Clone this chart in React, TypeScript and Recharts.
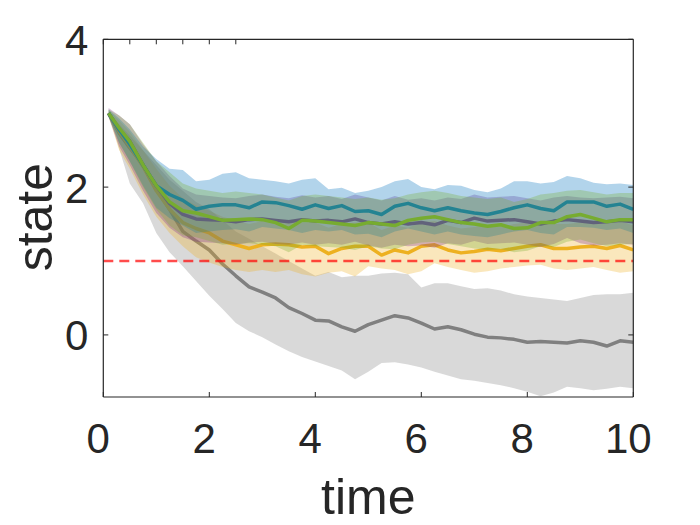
import React from 'react';
import { ComposedChart, Area, Line, XAxis, YAxis, ReferenceLine } from 'recharts';

const TIME = [0.1, 0.3, 0.5, 0.75, 1, 1.25, 1.5, 1.75, 2, 2.25, 2.5, 2.75, 3, 3.25, 3.5, 3.75, 4, 4.25, 4.5, 4.75, 5, 5.25, 5.5, 5.75, 6, 6.25, 6.5, 6.75, 7, 7.25, 7.5, 7.75, 8, 8.25, 8.5, 8.75, 9, 9.25, 9.5, 9.75, 10];

const GRAY_MEAN = [3.0, 2.73, 2.53, 2.3, 1.98, 1.7, 1.4, 1.27, 1.15, 0.96, 0.8, 0.65, 0.58, 0.5, 0.37, 0.29, 0.2, 0.19, 0.11, 0.05, 0.14, 0.2, 0.26, 0.23, 0.16, 0.08, 0.11, 0.07, 0.01, -0.03, -0.04, -0.06, -0.1, -0.09, -0.1, -0.11, -0.08, -0.1, -0.15, -0.08, -0.1];
const GRAY_HI = [3.02, 2.85, 2.7, 2.5, 2.3, 2.1, 1.95, 1.8, 1.7, 1.55, 1.4, 1.3, 1.2, 1.1, 1.0, 0.9, 0.8, 0.85, 0.78, 0.8, 0.8, 0.83, 0.84, 0.82, 0.64, 0.7, 0.7, 0.66, 0.62, 0.63, 0.6, 0.55, 0.52, 0.5, 0.48, 0.46, 0.5, 0.54, 0.55, 0.55, 0.57];
const GRAY_LO = [2.98, 2.52, 2.05, 1.78, 1.38, 1.12, 0.93, 0.73, 0.53, 0.35, 0.16, 0.05, -0.03, -0.13, -0.22, -0.3, -0.36, -0.42, -0.48, -0.6, -0.5, -0.38, -0.37, -0.4, -0.44, -0.5, -0.55, -0.6, -0.62, -0.65, -0.68, -0.72, -0.77, -0.83, -0.78, -0.7, -0.72, -0.75, -0.73, -0.7, -0.72];

const YELLOW_MEAN = [3.0, 2.75, 2.55, 2.28, 1.95, 1.7, 1.52, 1.44, 1.38, 1.27, 1.22, 1.17, 1.22, 1.23, 1.22, 1.19, 1.2, 1.1, 1.17, 1.2, 1.2, 1.08, 1.15, 1.11, 1.2, 1.22, 1.15, 1.11, 1.13, 1.16, 1.14, 1.17, 1.2, 1.22, 1.17, 1.17, 1.19, 1.2, 1.17, 1.21, 1.15];
const YELLOW_HI = [3.04, 2.9, 2.75, 2.5, 2.25, 2.02, 1.85, 1.75, 1.68, 1.6, 1.55, 1.5, 1.54, 1.55, 1.54, 1.52, 1.52, 1.45, 1.5, 1.52, 1.52, 1.42, 1.48, 1.45, 1.52, 1.54, 1.48, 1.44, 1.46, 1.48, 1.46, 1.5, 1.52, 1.54, 1.5, 1.5, 1.52, 1.52, 1.5, 1.54, 1.48];
const YELLOW_LO = [2.95, 2.5, 2.25, 1.9, 1.6, 1.38, 1.2, 1.05, 0.98, 0.92, 0.88, 0.85, 0.88, 0.85, 0.88, 0.82, 0.79, 0.84, 0.86, 0.79, 0.93, 0.9, 0.88, 0.82, 0.86, 0.97, 0.92, 0.88, 0.84, 0.86, 0.9, 0.92, 0.94, 0.95, 0.9, 0.88, 0.9, 0.92, 0.88, 0.84, 0.86];

const PURPLE_MEAN = [3.0, 2.78, 2.62, 2.3, 2.02, 1.78, 1.63, 1.57, 1.56, 1.55, 1.53, 1.56, 1.57, 1.55, 1.53, 1.56, 1.54, 1.55, 1.53, 1.57, 1.52, 1.5, 1.53, 1.5, 1.52, 1.49, 1.55, 1.52, 1.58, 1.54, 1.55, 1.56, 1.53, 1.5, 1.54, 1.56, 1.54, 1.52, 1.53, 1.55, 1.53];
const PURPLE_HI = [3.07, 2.97, 2.85, 2.58, 2.35, 2.15, 1.98, 1.9, 1.88, 1.86, 1.85, 1.88, 1.9, 1.87, 1.85, 1.89, 1.86, 1.88, 1.84, 1.9, 1.86, 1.82, 1.88, 1.83, 1.85, 1.82, 1.86, 1.84, 1.9, 1.86, 1.87, 1.88, 1.85, 1.82, 1.86, 1.88, 1.86, 1.85, 1.86, 1.87, 1.85];
const PURPLE_LO = [2.95, 2.55, 2.3, 1.95, 1.65, 1.45, 1.32, 1.26, 1.25, 1.24, 1.22, 1.25, 1.26, 1.23, 1.22, 1.25, 1.22, 1.24, 1.22, 1.26, 1.21, 1.18, 1.22, 1.2, 1.21, 1.18, 1.24, 1.22, 1.27, 1.23, 1.24, 1.25, 1.22, 1.19, 1.23, 1.31, 1.24, 1.21, 1.22, 1.24, 1.22];

const BLUE_MEAN = [3.0, 2.78, 2.58, 2.3, 2.02, 1.9, 1.82, 1.7, 1.74, 1.76, 1.76, 1.72, 1.8, 1.79, 1.75, 1.7, 1.76, 1.71, 1.75, 1.67, 1.68, 1.63, 1.74, 1.78, 1.72, 1.68, 1.72, 1.68, 1.65, 1.63, 1.67, 1.72, 1.76, 1.71, 1.68, 1.8, 1.8, 1.8, 1.74, 1.77, 1.7];
const BLUE_HI = [3.05, 2.93, 2.78, 2.55, 2.38, 2.25, 2.23, 2.08, 2.1, 2.18, 2.2, 2.12, 2.1, 2.08, 2.05, 2.1, 2.12, 1.97, 1.99, 1.92, 1.95, 2.0, 2.08, 2.11, 2.0, 1.97, 2.03, 2.02, 1.96, 1.93, 1.98, 2.08, 2.08, 2.05, 2.07, 2.15, 2.12, 2.06, 2.04, 2.05, 2.03];
const BLUE_LO = [2.95, 2.6, 2.35, 2.02, 1.72, 1.58, 1.48, 1.38, 1.4, 1.42, 1.43, 1.4, 1.46, 1.44, 1.42, 1.38, 1.42, 1.4, 1.42, 1.36, 1.37, 1.32, 1.4, 1.44, 1.4, 1.36, 1.4, 1.36, 1.34, 1.32, 1.36, 1.4, 1.42, 1.38, 1.36, 1.46, 1.46, 1.45, 1.42, 1.44, 1.38];

const GREEN_MEAN = [3.0, 2.8, 2.62, 2.3, 2.02, 1.8, 1.68, 1.65, 1.6, 1.55, 1.56, 1.57, 1.56, 1.52, 1.44, 1.55, 1.54, 1.52, 1.5, 1.48, 1.52, 1.5, 1.48, 1.55, 1.58, 1.6, 1.56, 1.52, 1.5, 1.47, 1.49, 1.44, 1.45, 1.52, 1.52, 1.6, 1.63, 1.58, 1.53, 1.56, 1.56];
const GREEN_HI = [3.05, 2.97, 2.85, 2.6, 2.35, 2.2, 2.05, 1.98, 1.95, 1.92, 1.94, 1.92, 1.9, 1.86, 1.82, 1.88, 1.9, 1.88, 1.86, 1.84, 1.86, 1.83, 1.85, 1.9, 1.93, 1.95, 1.92, 1.88, 1.86, 1.84, 1.86, 1.8, 1.84, 1.9, 1.92, 1.95, 1.96, 1.93, 1.9, 1.92, 1.92];
const GREEN_LO = [2.95, 2.6, 2.35, 2.0, 1.7, 1.48, 1.35, 1.32, 1.27, 1.22, 1.23, 1.24, 1.22, 1.2, 1.12, 1.22, 1.2, 1.19, 1.18, 1.15, 1.2, 1.17, 1.16, 1.22, 1.25, 1.26, 1.23, 1.2, 1.17, 1.15, 1.16, 1.12, 1.14, 1.2, 1.19, 1.26, 1.29, 1.24, 1.2, 1.22, 1.23];

const X_TICKS = [0, 2, 4, 6, 8, 10];
const Y_TICKS = [0, 2, 4];
const Y_DOMAIN = [-0.84, 4];
const TARGET = 1;

const SERIES = [
  { key: 'gray', color: '#808080', mean: GRAY_MEAN, lo: GRAY_LO, hi: GRAY_HI },
  { key: 'yellow', color: '#EDB120', mean: YELLOW_MEAN, lo: YELLOW_LO, hi: YELLOW_HI },
  { key: 'purple', color: '#7E2F8E', mean: PURPLE_MEAN, lo: PURPLE_LO, hi: PURPLE_HI },
  { key: 'blue', color: '#0072BD', mean: BLUE_MEAN, lo: BLUE_LO, hi: BLUE_HI },
  { key: 'green', color: '#77AC30', mean: GREEN_MEAN, lo: GREEN_LO, hi: GREEN_HI },
];

const data = TIME.map((t, i) => {
  const row: any = { t };
  SERIES.forEach((s) => {
    row[s.key] = s.mean[i];
    row[s.key + 'R'] = [s.lo[i], s.hi[i]];
  });
  return row;
});

const FONT = '"Liberation Sans", Arial, Helvetica, sans-serif';
const INK = '#262626';

const BottomTick = (p: any) => (
  <g>
    <line x1={p.x} y1={p.y} x2={p.x} y2={p.y - 5} stroke={INK} strokeWidth={1} />
    <text x={p.x - 5} y={p.y + 55.7} textAnchor="middle" fontSize={42} fontFamily={FONT} fill={INK}>
      {p.payload.value}
    </text>
  </g>
);
const TopTick = (p: any) => (
  <line x1={p.x} y1={p.y} x2={p.x} y2={p.y + 5} stroke={INK} strokeWidth={1} />
);
const LeftTick = (p: any) => (
  <g>
    <line x1={p.x} y1={p.y} x2={p.x + 5} y2={p.y} stroke={INK} strokeWidth={1} />
    <text x={p.x - 15} y={p.y + 15.5} textAnchor="end" fontSize={42} fontFamily={FONT} fill={INK}>
      {p.payload.value}
    </text>
  </g>
);
const RightTick = (p: any) => (
  <line x1={p.x} y1={p.y} x2={p.x - 5} y2={p.y} stroke={INK} strokeWidth={1} />
);

const timeLabel = (p: any) => {
  const vb = p.viewBox || {};
  return (
    <text x={vb.x + vb.width / 2} y={vb.y + 117} textAnchor="middle" fontSize={50} fontFamily={FONT} fill={INK}>
      time
    </text>
  );
};
const stateLabel = (p: any) => {
  const vb = p.viewBox || {};
  const x = vb.x + vb.width - 51.3;
  const y = vb.y + vb.height / 2 - 1;
  return (
    <text x={x} y={y} transform={`rotate(-90 ${x} ${y})`} textAnchor="middle" fontSize={50} fontFamily={FONT} fill={INK}>
      state
    </text>
  );
};

export default function App() {
  let z = 100;
  return (
    <ComposedChart
      width={700}
      height={525}
      data={data}
      margin={{ top: 21.3, right: 64.7, bottom: 96, left: 35.3 }}
    >
      <XAxis
        xAxisId="b"
        dataKey="t"
        type="number"
        domain={[0, 10]}
        ticks={X_TICKS}
        height={40}
        tickSize={0}
        tickMargin={0}
        tickLine={false}
        tick={BottomTick}
        axisLine={{ stroke: INK, strokeWidth: 1.2 }}
        label={timeLabel}
        allowDataOverflow
      />
      <XAxis
        xAxisId="top"
        orientation="top"
        type="number"
        domain={[0, 10]}
        ticks={X_TICKS}
        height={10}
        tickSize={0}
        tickMargin={0}
        tickLine={false}
        tick={TopTick}
        axisLine={{ stroke: INK, strokeWidth: 1.2 }}
        allowDataOverflow
      />
      <YAxis
        yAxisId="l"
        type="number"
        domain={Y_DOMAIN}
        ticks={Y_TICKS}
        width={60}
        tickSize={0}
        tickMargin={0}
        tickLine={false}
        tick={LeftTick}
        axisLine={{ stroke: INK, strokeWidth: 1.2 }}
        label={stateLabel}
        allowDataOverflow
      />
      <YAxis
        yAxisId="r"
        orientation="right"
        type="number"
        domain={Y_DOMAIN}
        ticks={Y_TICKS}
        width={10}
        tickSize={0}
        tickMargin={0}
        tickLine={false}
        tick={RightTick}
        axisLine={{ stroke: INK, strokeWidth: 1.2 }}
        allowDataOverflow
      />
      {SERIES.flatMap((s) => [
        <Area
          key={s.key + 'R'}
          xAxisId="b"
          yAxisId="l"
          type="linear"
          dataKey={s.key + 'R'}
          stroke="none"
          fill={s.color}
          fillOpacity={0.3}
          isAnimationActive={false}
          dot={false}
          activeDot={false}
          zIndex={z++}
        />,
        <Line
          key={s.key}
          xAxisId="b"
          yAxisId="l"
          type="linear"
          dataKey={s.key}
          stroke={s.color}
          strokeWidth={3.5}
          strokeLinejoin="round"
          dot={false}
          activeDot={false}
          isAnimationActive={false}
          zIndex={z++}
        />,
      ])}
      <ReferenceLine
        xAxisId="b"
        yAxisId="l"
        y={TARGET}
        stroke="#FF0000"
        strokeOpacity={0.7}
        strokeWidth={2.5}
        strokeDasharray="10 6"
        zIndex={300}
      />
    </ComposedChart>
  );
}
